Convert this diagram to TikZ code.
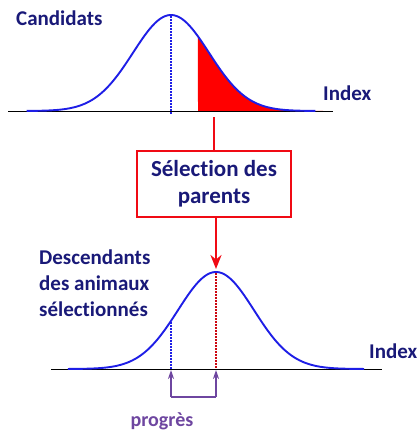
\documentclass[tikz,border=0pt]{standalone}
\usepackage{fontspec}
\setmainfont{Carlito}[Ligatures=NoCommon]
\usetikzlibrary{arrows.meta}
\definecolor{navy}{RGB}{25,25,120}
\definecolor{curveblue}{RGB}{30,30,230}
\definecolor{selred}{RGB}{240,10,20}
\definecolor{purp}{RGB}{110,70,160}
\tikzset{
  lbl/.style={font=\fontsize{21}{26}\selectfont\bfseries, text=navy, inner sep=0pt},
  curve/.style={curveblue, line width=1.9pt},
  axis/.style={black, line width=1pt},
  dotline/.style={line width=1.6pt, dash pattern=on 1.5pt off 1.5pt},
  redcon/.style={selred, line width=2.4pt},
  purparrow/.style={purp, line width=1.6pt, -{Stealth[length=9pt,width=6pt]}},
}
\begin{document}
\begin{tikzpicture}[x=1pt,y=-1pt]
\useasboundingbox (0,0) rectangle (419,431);
% top distribution
\fill[red] plot[domain=0.71:4, samples=60] ({171+38*\x},{111-96*exp(-\x*\x/2)}) -- (323,111) -- (198,111) -- cycle;
\draw[axis] (8,111) -- (333,111);
\draw[curve] plot[domain=-3.8:3.8, samples=120] ({171+38*\x},{111-96*exp(-\x*\x/2)});
\draw[curveblue, dotline] (171,16) -- (171,114);
\node[lbl, anchor=west] (cand) at (16,18) {Candidats};
\node[lbl, anchor=west] (idx1) at (323,93) {Index};
% selection box
\coordinate (topsel) at (214,117);
\node[draw=selred, line width=2pt, minimum width=154pt, minimum height=66pt, align=center,
      font=\fontsize{23}{27}\selectfont\bfseries, text=navy] (box) at (214,184) {Sélection des\\parents};
\coordinate (peak2) at (216,269);
\draw[redcon] (topsel) -- (box.north -| topsel);
\draw[redcon, -{Stealth[length=14pt,width=11pt]}] (box.south -| peak2) -- (peak2);
% bottom distribution
\draw[axis] (51,369) -- (382,369);
\draw[curve] plot[domain=-3.9:3.9, samples=120] ({216+38*\x},{369-97*exp(-\x*\x/2)});
\draw[curveblue, dotline] (171,322) -- (171,369);
\draw[selred!85!black, dotline] (216,273) -- (216,369);
\node[lbl, anchor=west, align=left] (desc) at (39,283) {Descendants\\des animaux\\sélectionnés};
\node[lbl, anchor=west] (idx2) at (369,351) {Index};
% progress
\coordinate (pa) at (171,397);
\coordinate (pb) at (216,397);
\coordinate (pa0) at (171,370);
\coordinate (pb0) at (216,370);
\draw[purp, line width=1.6pt] (pa) -- (pb);
\draw[purparrow] (pa) -- (pa0);
\draw[purparrow] (pb) -- (pb0);
\node[lbl, text=purp, font=\fontsize{20}{24}\selectfont\bfseries] (prog) at (162,421) {progrès};
\end{tikzpicture}
\end{document}
